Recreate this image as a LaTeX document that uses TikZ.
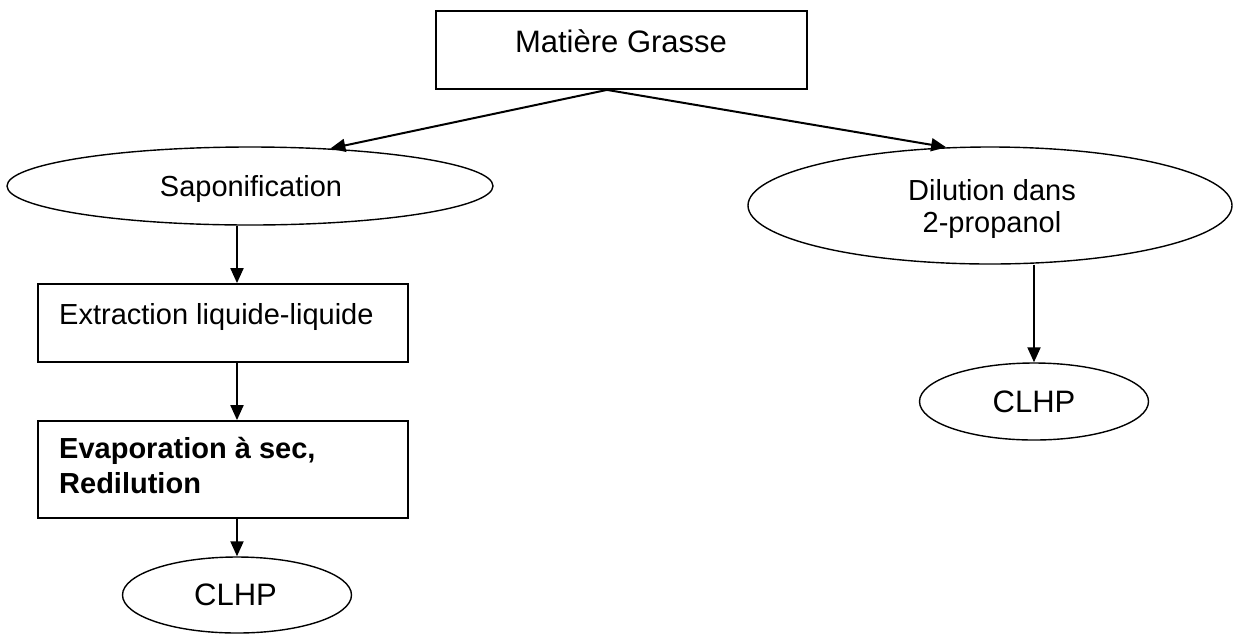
\documentclass[tikz,border=0pt]{standalone}
\usepackage{fontspec}
\setmainfont{Liberation Sans}
\usetikzlibrary{shapes.geometric,arrows.meta}
\begin{document}
\begin{tikzpicture}[x=1pt,y=-1pt,
  box/.style={draw, line width=1.8pt, rectangle, inner sep=0pt},
  oval/.style={draw, line width=1.4pt, ellipse, inner sep=0pt},
  txt/.style={inner sep=0pt, anchor=base, font=\fontsize{29pt}{34pt}\selectfont},
  bigtxt/.style={inner sep=0pt, anchor=base, font=\fontsize{31pt}{36pt}\selectfont},
  ltxt/.style={inner sep=0pt, anchor=base west, font=\fontsize{29pt}{34pt}\selectfont},
  btxt/.style={inner sep=0pt, anchor=base west, font=\fontsize{29pt}{34pt}\selectfont\bfseries},
  arr/.style={line width=2pt, -{Triangle[length=15pt,width=13pt]}}]
\useasboundingbox (0,0) rectangle (1233,633);
% shapes
\node[box, minimum width=371pt, minimum height=78pt] (mg) at (621.5,50) {};
\node[oval, minimum width=486pt, minimum height=78pt] (sap) at (250,186) {};
\node[oval, minimum width=484pt, minimum height=117pt] (dil) at (990,205.5) {};
\node[box, minimum width=370pt, minimum height=78pt] (ext) at (223,323) {};
\node[box, minimum width=370pt, minimum height=97pt] (eva) at (223,469.5) {};
\node[oval, minimum width=229pt, minimum height=76pt] (clhpL) at (237,595) {};
\node[oval, minimum width=229pt, minimum height=77pt] (clhpR) at (1034,401.5) {};
% texts
\node[bigtxt] (tmg) at (621,52) {Matière Grasse};
\node[txt] (tsap) at (251,196) {Saponification};
\node[txt] (tdil1) at (992,200) {Dilution dans};
\node[txt] (tdil2) at (992,232) {2-propanol};
\node[ltxt] (text) at (59,324) {Extraction liquide-liquide};
\node[btxt] (teva1) at (59,458) {Evaporation à sec,};
\node[btxt] (teva2) at (59,493) {Redilution};
\node[bigtxt] (tcl) at (235.5,605) {CLHP};
\node[bigtxt] (tcr) at (1034,412) {CLHP};
% connectors
\coordinate (mgout) at ([xshift=-14.5pt]mg.south);
\draw[arr] (mgout) -- (sap.25);
\draw[arr] (mgout) -- (dil.127);
\draw[arr] (clhpL.north |- sap.south) -- (clhpL.north |- ext.north);
\draw[arr] (clhpL.north |- ext.south) -- (clhpL.north |- eva.north);
\draw[arr] (clhpL.north |- eva.south) -- (clhpL.north);
\draw[arr] (clhpR.north |- dil.south) -- (clhpR.north);
\end{tikzpicture}
\end{document}
